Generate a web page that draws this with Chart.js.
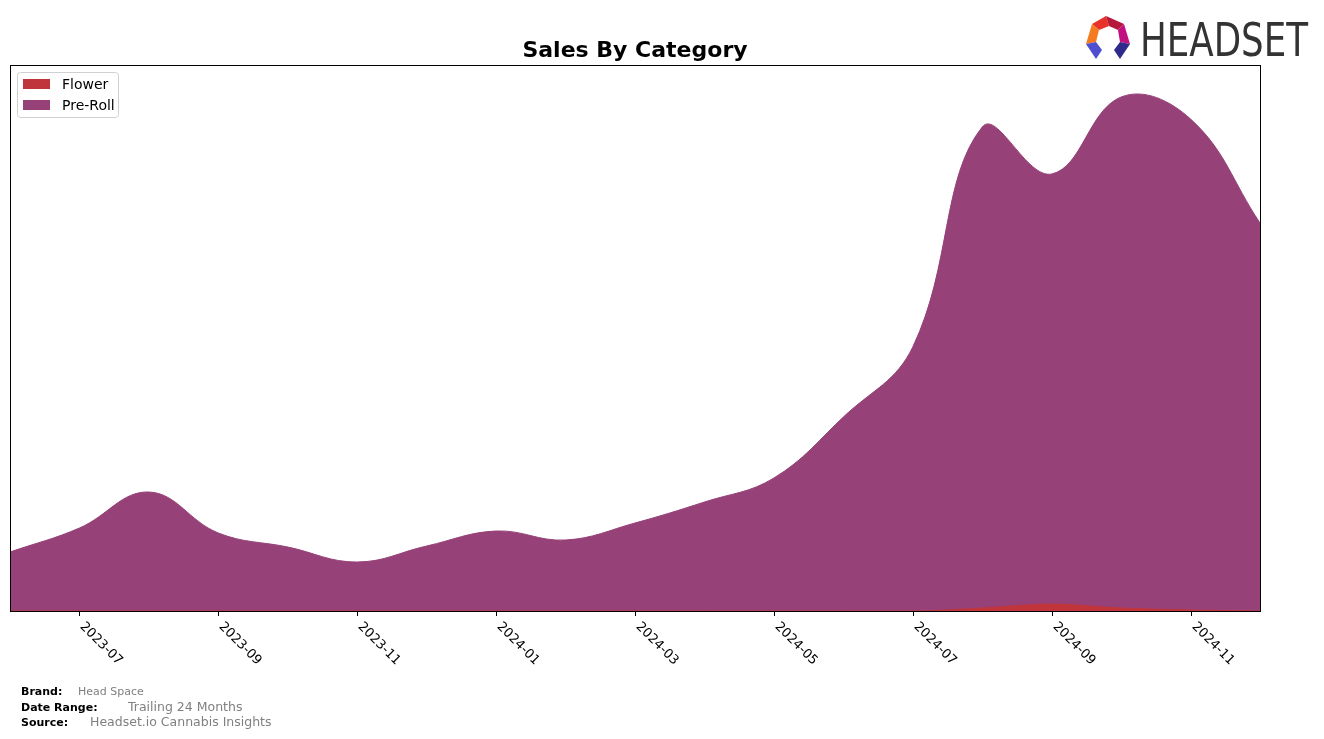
<!DOCTYPE html>
<html>
<head>
<meta charset="utf-8">
<script src="https://cdn.jsdelivr.net/npm/chart.js@4.4.1/dist/chart.umd.min.js"></script>
<style>
  html, body { margin: 0; padding: 0; background: #fff; }
  #wrap { width: 1324px; height: 739px; }
</style>
</head>
<body>
<div id="wrap"><canvas id="salesChart" width="1324" height="739"></canvas></div>
<script>
// Monthly sales, arbitrary units
const months = [
    "2023-06", "2023-07", "2023-08", "2023-09", "2023-10", "2023-11", "2023-12",
    "2024-01", "2024-02", "2024-03", "2024-04", "2024-05", "2024-06", "2024-07",
    "2024-08", "2024-09", "2024-10", "2024-11", "2024-12"
];
const preRollSales = [59, 83, 119, 78, 64, 49, 65, 80, 71, 88, 109, 133, 194, 264, 484, 437, 514, 492, 388];
const flowerSales = [0, 0, 0, 0, 0, 0, 0, 0, 0, 0, 0, 0, 0, 0, 3, 7, 3, 1, 0];
const tickLabels = ["2023-07", "2023-09", "2023-11", "2024-01", "2024-03", "2024-05", "2024-07", "2024-09", "2024-11"];
const legendItems = [
    { label: "Flower", color: "#c0353b" },
    { label: "Pre-Roll", color: "#964278" }
];

// Draw frame, axis ticks, legend, title, footer and logo by hand (matplotlib look)
const decorPlugin = {
    id: "decor",
    afterDraw(chart) {
        const ctx = chart.ctx;
        const area = chart.chartArea;
        const xScale = chart.scales.x;

        ctx.save();
        // plot frame
        ctx.strokeStyle = "#000";
        ctx.lineWidth = 1;
        ctx.strokeRect(area.left + 0.5, area.top + 0.5, area.right - area.left, area.bottom - area.top);

        // x ticks and rotated labels
        ctx.font = "13px 'DejaVu Sans'";
        ctx.fillStyle = "#000";
        ctx.textAlign = "left";
        ctx.textBaseline = "top";
        tickLabels.forEach((lbl) => {
            const x = Math.round(xScale.getPixelForValue(months.indexOf(lbl))) + 0.5;
            ctx.beginPath();
            ctx.moveTo(x, area.bottom + 1);
            ctx.lineTo(x, area.bottom + 5);
            ctx.stroke();
            ctx.save();
            ctx.translate(x + 7, area.bottom + 9);
            ctx.rotate(Math.PI / 4);
            ctx.fillText(lbl, 0, 0);
            ctx.restore();
        });

        // legend box
        ctx.fillStyle = "rgba(255,255,255,0.8)";
        ctx.strokeStyle = "#d0d0d0";
        ctx.beginPath();
        ctx.roundRect(17.5, 72.5, 101, 45, 3);
        ctx.fill();
        ctx.stroke();
        ctx.font = "14px 'DejaVu Sans'";
        ctx.textBaseline = "middle";
        legendItems.forEach((item, i) => {
            const y = 84 + i * 21;
            ctx.fillStyle = item.color;
            ctx.fillRect(23, y - 5, 27, 10);
            ctx.fillStyle = "#000";
            ctx.fillText(item.label, 62, y + 1);
        });

        // title
        ctx.font = "bold 22px 'DejaVu Sans'";
        ctx.textAlign = "center";
        ctx.textBaseline = "alphabetic";
        ctx.fillText("Sales By Category", (area.left + area.right) / 2, 57);

        // footer
        ctx.textAlign = "left";
        ctx.font = "bold 11px 'DejaVu Sans'";
        ctx.fillText("Brand:", 21, 695);
        ctx.fillText("Date Range:", 21, 711);
        ctx.fillText("Source:", 21, 726);
        ctx.fillStyle = "#808080";
        ctx.font = "11px 'DejaVu Sans'";
        ctx.fillText("Head Space", 78, 695);
        ctx.font = "12.5px 'DejaVu Sans'";
        ctx.fillText("Trailing 24 Months", 128, 711);
        ctx.fillText("Headset.io Cannabis Insights", 90, 726);

        // logo mark
        const segs = [
            ["#e8332a", [[1092, 24], [1106, 16], [1109, 26], [1099, 30]]],
            ["#b5183a", [[1106, 16], [1124, 24], [1118, 30], [1109, 26]]],
            ["#c2107e", [[1124, 24], [1130, 44], [1120, 42], [1118, 30]]],
            ["#f47b20", [[1092, 24], [1099, 30], [1096, 42], [1086, 44]]],
            ["#4e4fd0", [[1086, 44], [1096, 42], [1102, 50], [1096, 59]]],
            ["#2e2a8a", [[1130, 44], [1120, 42], [1114, 50], [1120, 59]]]
        ];
        segs.forEach(([col, pts]) => {
            ctx.fillStyle = col;
            ctx.beginPath();
            pts.forEach((p, i) => (i ? ctx.lineTo(p[0], p[1]) : ctx.moveTo(p[0], p[1])));
            ctx.closePath();
            ctx.fill();
        });

        // logo text
        ctx.fillStyle = "#333";
        ctx.font = "47px 'DejaVu Sans Condensed'";
        const w = ctx.measureText("HEADSET").width;
        ctx.save();
        ctx.translate(1140, 56);
        ctx.scale(168 / w, 1);
        ctx.fillText("HEADSET", 0, 0);
        ctx.restore();

        ctx.restore();
    }
};

const salesChart = new Chart(document.getElementById("salesChart"), {
    type: "line",
    data: {
        labels: months,
        datasets: [
            {
                label: "Flower",
                data: flowerSales,
                backgroundColor: legendItems[0].color,
                borderColor: legendItems[0].color,
                borderWidth: 1,
                fill: "origin",
                pointRadius: 0,
                cubicInterpolationMode: "monotone"
            },
            {
                label: "Pre-Roll",
                data: preRollSales,
                backgroundColor: legendItems[1].color,
                borderColor: legendItems[1].color,
                borderWidth: 1,
                fill: "origin",
                pointRadius: 0,
                tension: 0.4
            }
        ]
    },
    options: {
        responsive: false,
        animation: false,
        layout: { padding: { left: 10, right: 64, top: 65, bottom: 128 } },
        plugins: {
            legend: { display: false },
            title: { display: false },
            tooltip: { enabled: false }
        },
        scales: {
            x: { display: false, offset: false },
            y: { display: false, min: 0, max: 546 }
        }
    },
    plugins: [decorPlugin]
});
</script>
</body>
</html>
